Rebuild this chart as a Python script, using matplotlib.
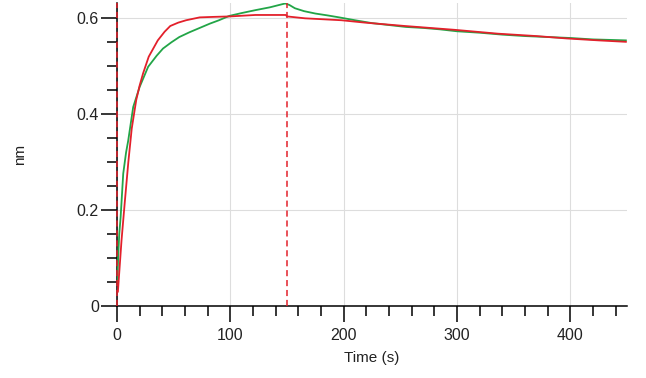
import matplotlib
matplotlib.use("Agg")
import matplotlib.pyplot as plt
from matplotlib.ticker import MultipleLocator

plt.rcParams['font.family'] = ['Liberation Sans', 'DejaVu Sans']

# measured response (green)
green_t = [0.3, 1.0, 2.0, 3.2, 5.5, 8, 9.9, 14.3, 20, 27.5, 35, 40.6, 48, 55, 64, 73,
           82, 90, 99, 110, 122, 135, 145, 148.5, 152, 157, 165, 175, 186, 196, 210,
           225, 240, 255, 270, 285, 300, 320, 340, 360, 380, 400, 420, 435, 449]
green_v = [0.05, 0.10, 0.15, 0.185, 0.276, 0.32, 0.345, 0.415, 0.457, 0.499, 0.522, 0.537,
           0.550, 0.561, 0.571, 0.580, 0.589, 0.596, 0.605, 0.611, 0.617, 0.623, 0.629,
           0.631, 0.628, 0.621, 0.615, 0.610, 0.606, 0.602, 0.596, 0.590, 0.586, 0.582,
           0.580, 0.577, 0.573, 0.570, 0.566, 0.563, 0.561, 0.559, 0.556, 0.555, 0.554]

# fitted curve (red)
red_t = [0.8, 2, 4, 7, 10, 13, 17, 20, 23, 28, 36, 42, 47, 54, 61, 73, 85, 100, 122,
         149, 150, 166, 198, 219, 254, 298, 336, 370, 397, 425, 449]
red_v = [0.03, 0.07, 0.137, 0.22, 0.30, 0.37, 0.43, 0.46, 0.485, 0.52, 0.554, 0.572,
         0.584, 0.591, 0.596, 0.602, 0.603, 0.604, 0.607, 0.607, 0.604, 0.600, 0.596,
         0.591, 0.584, 0.576, 0.568, 0.563, 0.558, 0.554, 0.551]

# step boundaries (association start / dissociation start)
steps = [0, 150]

fig = plt.figure(figsize=(6.46, 3.78), dpi=100)
ax = fig.add_axes([0.1811, 0.1905, 0.7895, 0.8016])

ax.plot(green_t, green_v, color='#22a547', lw=1.3, zorder=3)
ax.plot(red_t, red_v, color='#e3202b', lw=1.3, zorder=4)
for s in steps:
    ax.axvline(s, color='#e3202b', lw=1.1, ls=(0, (4, 2.5)), zorder=5, clip_on=False)

ax.set_xlim(0, 450)
ax.set_ylim(0, 0.632)
ax.xaxis.set_major_locator(MultipleLocator(100))
ax.xaxis.set_minor_locator(MultipleLocator(20))
ax.yaxis.set_major_locator(MultipleLocator(0.2))
ax.yaxis.set_minor_locator(MultipleLocator(0.05))
ax.set_yticks([0, 0.2, 0.4, 0.6])
ax.set_yticklabels(['0', '0.2', '0.4', '0.6'])

ax.grid(True, which='major', color='#dddddd', lw=0.8, zorder=0)
for sp in ['top', 'right']:
    ax.spines[sp].set_visible(False)
for sp in ['left', 'bottom']:
    ax.spines[sp].set_linewidth(1.1)
    ax.spines[sp].set_zorder(2)

ax.tick_params(which='major', length=11.5, width=1.1, labelsize=11.5, labelcolor='#222222')
ax.tick_params(which='minor', length=7, width=1.1)
ax.tick_params(axis='x', which='major', pad=4)
ax.tick_params(axis='y', which='major', pad=1.5)

ax.set_xlabel('Time (s)', fontsize=11, color='#222222', labelpad=6)
ax.set_ylabel('nm', fontsize=11, color='#222222')
ax.yaxis.set_label_coords(-0.1765, 0.5)

fig.savefig('out.png', dpi=100)
